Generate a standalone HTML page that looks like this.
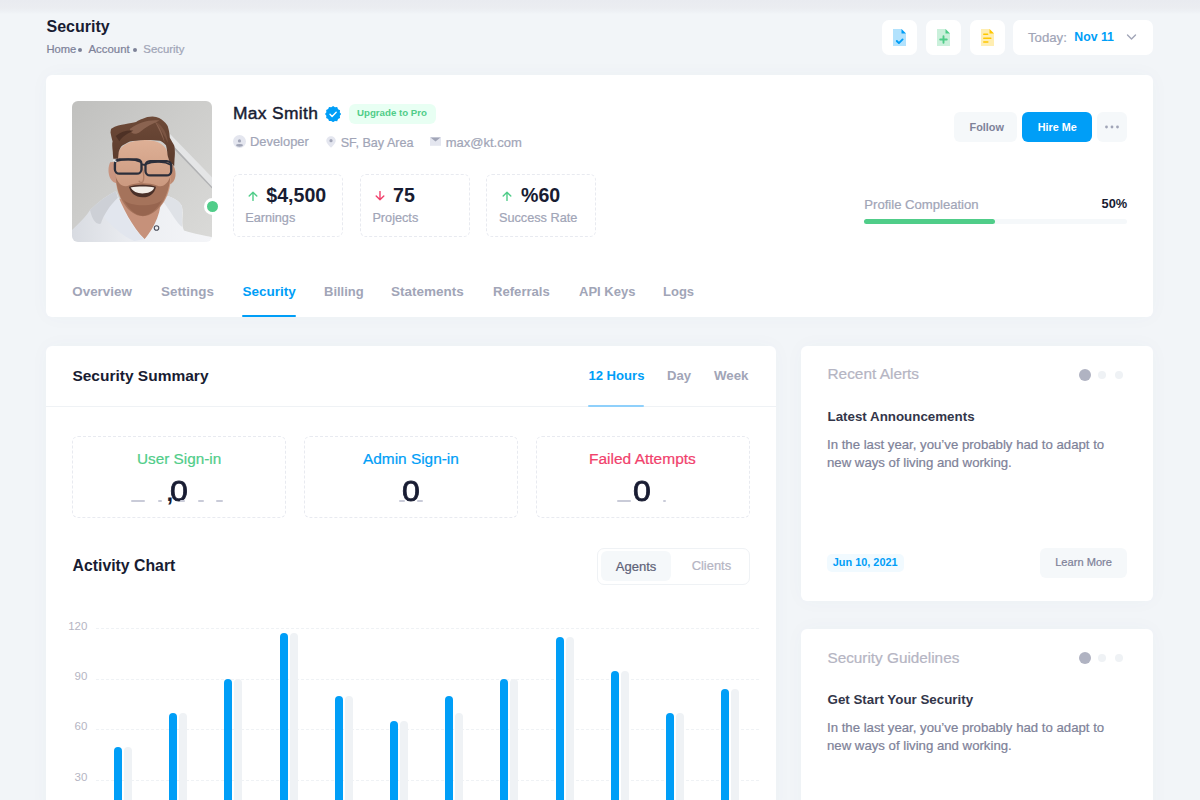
<!DOCTYPE html>
<html><head><meta charset="utf-8">
<style>
*{margin:0;padding:0;box-sizing:border-box}
html,body{width:1200px;height:800px;overflow:hidden}
body{background:#f2f5f8;font-family:"Liberation Sans",sans-serif;position:relative;color:#181c32}
.a{position:absolute;white-space:nowrap;line-height:1}
.card{position:absolute;background:#fff;border-radius:6px;box-shadow:0 0 20px 0 rgba(76,87,125,0.03)}
.ibtn{position:absolute;top:20px;width:35px;height:35px;background:#fff;border-radius:7px}
.dash{position:absolute;border:1px dashed #e8eaf0;border-radius:6px}
.bar{position:absolute;width:8px;border-radius:4px 4px 0 0;background:#009ef7}
.bar.gr{background:#eff2f5}
.grid{position:absolute;left:96px;width:663px;height:0;border-top:1px dashed #eff2f5}
</style></head><body>
<div style="position:absolute;left:0;top:0;width:1200px;height:14px;background:linear-gradient(#e9ebf0,#ebedf1 55%,#eef1f5 85%,#f2f5f8)"></div>
<div class="a" style="left:46.50px;top:18.96px;font-size:16px;font-weight:bold;color:#181c32;">Security</div>
<div class="a" style="left:46.50px;top:44.22px;font-size:11.2px;-webkit-text-stroke:0.22px #7e8299;color:#7e8299;">Home</div>
<div style="position:absolute;left:78px;top:48px;width:4px;height:4px;background:#7e8299;border-radius:2px;"></div>
<div class="a" style="left:88.50px;top:44.05px;font-size:11.4px;-webkit-text-stroke:0.22px #7e8299;color:#7e8299;">Account</div>
<div style="position:absolute;left:132.5px;top:48px;width:4px;height:4px;background:#7e8299;border-radius:2px;"></div>
<div class="a" style="left:143.30px;top:44.05px;font-size:11.4px;-webkit-text-stroke:0.22px #a1a5b7;color:#a1a5b7;">Security</div>
<div class="ibtn" style="left:882px"><svg width="35" height="35" viewBox="0 0 35 35"><path d="M11 9h8.5l4.5 4.5V26H11z" fill="#009ef7" opacity=".3"/><path d="M19.5 9l4.5 4.5h-4.5z" fill="#009ef7"/><path d="M14.8 21l2.1 2.1 3.7-3.7" stroke="#009ef7" stroke-width="1.9" fill="none" stroke-linecap="round" stroke-linejoin="round"/></svg></div>
<div class="ibtn" style="left:926px"><svg width="35" height="35" viewBox="0 0 35 35"><path d="M11 9h8.5l4.5 4.5V26H11z" fill="#50cd89" opacity=".3"/><path d="M19.5 9l4.5 4.5h-4.5z" fill="#50cd89"/><path d="M17.5 16.2v6.6M14.2 19.5h6.6" stroke="#50cd89" stroke-width="1.9" fill="none" stroke-linecap="round"/></svg></div>
<div class="ibtn" style="left:970px"><svg width="35" height="35" viewBox="0 0 35 35"><path d="M11 9h8.5l4.5 4.5V26H11z" fill="#ffc700" opacity=".3"/><path d="M19.5 9l4.5 4.5h-4.5z" fill="#ffc700"/><path d="M13.8 14.2h3.8M13.8 18.2h7M13.8 22h4" stroke="#ffc700" stroke-width="1.6" fill="none" stroke-linecap="round"/></svg></div>
<div style="position:absolute;left:1013px;top:20px;width:140px;height:35px;background:#fff;border-radius:7px;"></div>
<div class="a" style="left:1028.00px;top:30.63px;font-size:13.2px;-webkit-text-stroke:0.22px #a1a5b7;color:#a1a5b7;">Today:</div>
<div class="a" style="left:1074.30px;top:31.39px;font-size:12.3px;font-weight:bold;color:#009ef7;">Nov 11</div>
<svg class="a" style="left:1126px;top:33px" width="11" height="8" viewBox="0 0 11 8"><path d="M1.5 2l4 4 4-4" stroke="#a1a5b7" stroke-width="1.4" fill="none" stroke-linecap="round" stroke-linejoin="round"/></svg>
<div class="card" style="left:46px;top:75px;width:1107px;height:242px"></div>
<div style="position:absolute;left:72px;top:101px;width:140px;height:141px;border-radius:6px;overflow:hidden"><svg width="140" height="141" viewBox="0 0 800 805" preserveAspectRatio="none" style="filter:blur(0.35px)">
<defs>
<linearGradient id="pbg" x1="0" y1="0" x2="1" y2="1"><stop offset="0" stop-color="#c0c0be"/><stop offset=".45" stop-color="#cdcdcb"/><stop offset="1" stop-color="#dadad8"/></linearGradient>
<linearGradient id="skin" x1="0" y1="0" x2="0" y2="1"><stop offset="0" stop-color="#deb096"/><stop offset=".6" stop-color="#cc9a80"/><stop offset="1" stop-color="#b98670"/></linearGradient>
<linearGradient id="hood" x1="0" y1="0" x2="1" y2="0"><stop offset="0" stop-color="#d8dbe1"/><stop offset=".45" stop-color="#eceef2"/><stop offset="1" stop-color="#f4f5f8"/></linearGradient>
<linearGradient id="hair" x1="0" y1="0" x2="0" y2="1"><stop offset="0" stop-color="#6e4a38"/><stop offset="1" stop-color="#5a3a2b"/></linearGradient>
</defs>
<rect width="800" height="805" fill="url(#pbg)"/>
<path d="M560 188 L800 436 L800 490 L545 220Z" fill="#e4e5e6"/>
<path d="M548 222 L800 490 L800 500 L543 232Z" fill="#b0b1b3"/>
<path d="M270 560 L545 540 L570 650 L415 790 L285 660Z" fill="#c6917a"/>
<path d="M0 737 C40 700 80 660 103 623 C150 575 200 540 251 514 C290 610 345 720 415 790 C475 715 515 630 508 531 C570 545 615 570 628 600 C640 650 620 700 640 740 C700 760 760 770 800 778 L800 805 L0 805Z" fill="url(#hood)"/>
<path d="M150 625 C190 590 230 565 262 552 C300 640 350 730 415 790 L355 800 C285 770 210 700 150 625Z" fill="#e2e6ee"/>
<path d="M251 514 C200 540 150 575 103 623 C115 680 140 710 165 700 C180 650 220 590 262 552Z" fill="#cdd0d6"/>
<path d="M508 531 C570 545 615 570 628 600 C632 640 625 680 630 720 C600 700 570 640 525 580Z" fill="#dfe2e7"/>
<path d="M218 350 C195 400 215 468 258 470 L258 345Z" fill="#c99580"/>
<path d="M578 365 C606 415 588 478 546 476 L548 355Z" fill="#bf8b72"/>
<path d="M262 300 C275 250 340 222 415 222 C495 224 545 250 552 320 L565 440 C560 560 490 652 405 655 C320 652 258 560 250 450Z" fill="url(#skin)"/>
<path d="M250 430 C255 545 320 655 405 658 C492 655 555 545 562 430 C548 470 520 500 485 482 C450 468 365 465 330 480 C295 500 262 475 250 430Z" fill="#a5735b"/>
<path d="M295 565 C335 635 375 655 405 655 C445 653 485 622 515 565 C475 605 335 605 295 565Z" fill="#97654f"/>
<path d="M325 490 C360 474 450 474 480 490 C472 535 435 552 402 550 C362 549 336 528 325 490Z" fill="#4a3028"/>
<path d="M335 494 C372 486 438 486 470 494 C462 518 432 528 402 528 C372 528 347 516 335 494Z" fill="#f3eee8"/>
<path d="M224 158 C250 140 280 135 301 133 C330 128 350 122 366 120 C380 110 395 105 400 103 C420 92 440 88 460 88 C490 90 510 100 524 116 C540 130 548 142 550 154 C556 175 558 195 559 210 C570 230 580 245 585 257 C590 290 588 310 586 330 L584 373 C570 355 562 350 559 351 C552 330 548 320 546 309 C544 280 540 265 537 253 C520 235 510 230 503 227 C470 223 440 222 417 223 C380 225 350 228 331 231 C310 240 295 250 284 257 C275 270 270 280 267 291 L263 330 L236 330 C234 310 233 300 233 291 C230 260 228 240 232 231 C226 210 222 190 220 180 C221 170 222 163 224 158Z" fill="url(#hair)"/>
<path d="M330 160 C380 125 440 105 500 112 C460 130 420 150 390 175 C365 195 335 190 330 160Z" fill="#8a6350"/><path d="M470 110 C500 140 520 190 530 240 C515 200 495 160 470 110Z" fill="#8a6350"/><path d="M250 200 C280 175 320 165 350 170 C320 185 290 200 270 230Z" fill="#4e3125"/>
<path d="M480 120 C520 140 545 190 548 240 C530 200 505 160 480 120Z" fill="#7a5442"/>
<path d="M393 345 C408 400 418 440 404 462 C395 468 386 464 382 455" fill="none" stroke="#b07e66" stroke-width="7"/>
<rect x="245" y="333" width="152" height="82" rx="26" fill="none" stroke="#2b2e3a" stroke-width="13"/>
<rect x="420" y="343" width="147" height="82" rx="26" fill="none" stroke="#2b2e3a" stroke-width="13"/>
<path d="M245 345 C300 330 360 332 397 350 M420 360 C470 342 530 345 567 365" fill="none" stroke="#2b2e3a" stroke-width="10"/>
<path d="M397 362 L420 365" stroke="#2b2e3a" stroke-width="11"/>
<path d="M236 338 L254 346" stroke="#e8e8e8" stroke-width="9"/>
<circle cx="483" cy="725" r="13" fill="none" stroke="#4a4d5a" stroke-width="6"/>
</svg>
</div>
<div style="position:absolute;left:203.5px;top:198px;width:17px;height:17px;border-radius:50%;background:#50cd89;border:3px solid #fff"></div>
<div class="a" style="left:233.00px;top:104.87px;font-size:17.4px;color:#181c32;-webkit-text-stroke:0.45px #181c32;letter-spacing:0.35px;">Max Smith</div>
<svg class="a" style="left:324.8px;top:105.6px" width="16.2" height="16.2" viewBox="1.5 1.5 21 21"><path d="M12 1.5l2.4 1.6 2.9-.2 1.1 2.7 2.6 1.3-.3 2.9L22.5 12l-1.8 2.3.3 2.9-2.6 1.3-1.1 2.7-2.9-.2L12 22.5l-2.4-1.6-2.9.2-1.1-2.7-2.6-1.3.3-2.9L1.5 12l1.8-2.3-.3-2.9 2.6-1.3 1.1-2.7 2.9.2z" fill="#009ef7"/><path d="M8 12.3l2.7 2.7 5.3-5.3" stroke="#fff" stroke-width="1.8" fill="none" stroke-linecap="round" stroke-linejoin="round"/></svg>
<div style="position:absolute;left:349px;top:104px;width:87px;height:20px;background:#e8fff3;border-radius:6px;"></div>
<div class="a" style="left:357.00px;top:108.29px;font-size:9.7px;font-weight:bold;color:#50cd89;">Upgrade to Pro</div>
<svg class="a" style="left:233px;top:135px" width="13" height="13" viewBox="0 0 13 13"><circle cx="6.5" cy="6.5" r="6.5" fill="#e4e6ef"/><circle cx="6.5" cy="5.9" r="1.6" fill="#a1a5b7"/><ellipse cx="6.5" cy="10.3" rx="3.4" ry="1.4" fill="#a1a5b7"/></svg>
<div class="a" style="left:250.00px;top:136.38px;font-size:12.9px;-webkit-text-stroke:0.22px #a1a5b7;color:#a1a5b7;">Developer</div>
<svg class="a" style="left:325.8px;top:135.8px" width="10" height="12" viewBox="0 0 10 12"><path d="M5 0.3C2.4 0.3 0.3 2.3 0.3 4.8c0 2.9 4.7 6.9 4.7 6.9s4.7-4 4.7-6.9C9.7 2.3 7.6.3 5 .3z" fill="#e4e6ef"/><circle cx="5" cy="4.7" r="1.6" fill="#a1a5b7"/></svg>
<div class="a" style="left:340.70px;top:136.63px;font-size:12.6px;-webkit-text-stroke:0.22px #a1a5b7;color:#a1a5b7;">SF, Bay Area</div>
<svg class="a" style="left:430px;top:137px" width="11" height="9" viewBox="0 0 11 9"><rect x="0" y="0" width="11" height="8.8" fill="#e4e6ef"/><path d="M0.5 0.5H10.5L5.5 4.6Z" fill="#a1a5b7"/></svg>
<div class="a" style="left:445.70px;top:136.30px;font-size:13.0px;-webkit-text-stroke:0.22px #a1a5b7;color:#a1a5b7;">max@kt.com</div>
<div class="dash" style="left:233px;top:174px;width:110px;height:63px"></div>
<div class="dash" style="left:359.5px;top:174px;width:110px;height:63px"></div>
<div class="dash" style="left:486px;top:174px;width:110px;height:63px"></div>
<svg class="a" style="left:247.5px;top:191px" width="10" height="10" viewBox="0 0 10 10"><path d="M5 9.5V1.2M1.2 5L5 1.2 8.8 5" stroke="#50cd89" stroke-width="1.4" fill="none" stroke-linecap="round" stroke-linejoin="round"/></svg>
<div class="a" style="left:266.30px;top:185.51px;font-size:19.6px;font-weight:bold;color:#181c32;">$4,500</div>
<div class="a" style="left:245.20px;top:212.15px;font-size:12.7px;-webkit-text-stroke:0.22px #a1a5b7;color:#a1a5b7;">Earnings</div>
<svg class="a" style="left:374.5px;top:191px" width="10" height="10" viewBox="0 0 10 10"><path d="M5 0.5V8.8M1.2 5L5 8.8 8.8 5" stroke="#f1416c" stroke-width="1.4" fill="none" stroke-linecap="round" stroke-linejoin="round"/></svg>
<div class="a" style="left:393.00px;top:185.51px;font-size:19.6px;font-weight:bold;color:#181c32;">75</div>
<div class="a" style="left:372.40px;top:212.15px;font-size:12.7px;-webkit-text-stroke:0.22px #a1a5b7;color:#a1a5b7;">Projects</div>
<svg class="a" style="left:501.5px;top:191px" width="10" height="10" viewBox="0 0 10 10"><path d="M5 9.5V1.2M1.2 5L5 1.2 8.8 5" stroke="#50cd89" stroke-width="1.4" fill="none" stroke-linecap="round" stroke-linejoin="round"/></svg>
<div class="a" style="left:521.00px;top:185.51px;font-size:19.6px;font-weight:bold;color:#181c32;">%60</div>
<div class="a" style="left:499.00px;top:212.15px;font-size:12.7px;-webkit-text-stroke:0.22px #a1a5b7;color:#a1a5b7;">Success Rate</div>
<div style="position:absolute;left:954px;top:112px;width:63px;height:30px;background:#f5f8fa;border-radius:6px;"></div>
<div class="a" style="left:969.50px;top:121.77px;font-size:10.9px;font-weight:bold;color:#7e8299;">Follow</div>
<div style="position:absolute;left:1022px;top:112px;width:70px;height:30px;background:#009ef7;border-radius:6px;"></div>
<div class="a" style="left:1037.70px;top:121.86px;font-size:10.8px;font-weight:bold;color:#fff;">Hire Me</div>
<div style="position:absolute;left:1097px;top:112px;width:30px;height:30px;background:#f5f8fa;border-radius:6px;"></div>
<svg class="a" style="left:1104px;top:125px" width="16" height="4" viewBox="0 0 16 4"><circle cx="2.5" cy="2" r="1.4" fill="#a1a5b7"/><circle cx="8" cy="2" r="1.4" fill="#a1a5b7"/><circle cx="13.5" cy="2" r="1.4" fill="#a1a5b7"/></svg>
<div class="a" style="left:864.30px;top:197.61px;font-size:13.1px;-webkit-text-stroke:0.22px #a1a5b7;color:#a1a5b7;">Profile Compleation</div>
<div class="a" style="left:1101.60px;top:197.86px;font-size:12.8px;font-weight:bold;color:#181c32;">50%</div>
<div style="position:absolute;left:864px;top:219px;width:263px;height:5px;background:#f5f8fa;border-radius:3px;"></div>
<div style="position:absolute;left:864px;top:219px;width:131px;height:5px;background:#50cd89;border-radius:3px;"></div>
<div class="a" style="left:72.30px;top:284.66px;font-size:13.4px;font-weight:bold;color:#a1a5b7;">Overview</div>
<div class="a" style="left:161.00px;top:284.66px;font-size:13.4px;font-weight:bold;color:#a1a5b7;">Settings</div>
<div class="a" style="left:242.40px;top:284.57px;font-size:13.5px;font-weight:bold;color:#009ef7;">Security</div>
<div class="a" style="left:324.00px;top:285.00px;font-size:13.0px;font-weight:bold;color:#a1a5b7;">Billing</div>
<div class="a" style="left:391.00px;top:284.57px;font-size:13.5px;font-weight:bold;color:#a1a5b7;">Statements</div>
<div class="a" style="left:493.00px;top:284.91px;font-size:13.1px;font-weight:bold;color:#a1a5b7;">Referrals</div>
<div class="a" style="left:579.00px;top:285.00px;font-size:13.0px;font-weight:bold;color:#a1a5b7;">API Keys</div>
<div class="a" style="left:663.00px;top:285.00px;font-size:13.0px;font-weight:bold;color:#a1a5b7;">Logs</div>
<div style="position:absolute;left:242px;top:315px;width:54px;height:2px;background:#009ef7;border-radius:1px;"></div>
<div class="card" style="left:46px;top:346px;width:730px;height:470px"></div>
<div class="a" style="left:72.40px;top:367.88px;font-size:15.5px;font-weight:bold;color:#181c32;">Security Summary</div>
<div class="a" style="left:588.40px;top:368.91px;font-size:13.1px;font-weight:bold;color:#009ef7;">12 Hours</div>
<div class="a" style="left:667.00px;top:368.91px;font-size:13.1px;font-weight:bold;color:#a1a5b7;">Day</div>
<div class="a" style="left:714.00px;top:368.74px;font-size:13.3px;font-weight:bold;color:#a1a5b7;">Week</div>
<div style="position:absolute;left:46px;top:406px;width:730px;height:1px;background:#eff2f5;border-radius:0px;"></div>
<div style="position:absolute;left:588px;top:405px;width:56px;height:2px;background:#8fd0fb;border-radius:1px;"></div>
<div class="dash" style="left:72px;top:436px;width:214px;height:82px"></div>
<div class="dash" style="left:304px;top:436px;width:214px;height:82px"></div>
<div class="dash" style="left:536px;top:436px;width:214px;height:82px"></div>
<div class="a" style="left:137.00px;top:451.05px;font-size:15.3px;-webkit-text-stroke:0.22px #50cd89;color:#50cd89;">User Sign-in</div>
<div class="a" style="left:363.00px;top:450.96px;font-size:15.4px;-webkit-text-stroke:0.22px #009ef7;color:#009ef7;">Admin Sign-in</div>
<div class="a" style="left:589.00px;top:450.88px;font-size:15.5px;-webkit-text-stroke:0.22px #f1416c;color:#f1416c;">Failed Attempts</div>
<div class="a" style="left:170.40px;top:476.21px;font-size:30px;color:#181c32;-webkit-text-stroke:0.8px #181c32;transform:scaleX(1.07);transform-origin:left">0</div>
<div class="a" style="left:402.00px;top:476.21px;font-size:30px;color:#181c32;-webkit-text-stroke:0.8px #181c32;transform:scaleX(1.07);transform-origin:left">0</div>
<div class="a" style="left:633.30px;top:476.21px;font-size:30px;color:#181c32;-webkit-text-stroke:0.8px #181c32;transform:scaleX(1.07);transform-origin:left">0</div>
<div class="a" style="left:166.40px;top:481.28px;font-size:24px;font-weight:bold;color:#181c32;">,</div>
<div style="position:absolute;left:131px;top:500.2px;width:14.2px;height:1.8px;background:#c9cbd8;border-radius:1px;"></div>
<div style="position:absolute;left:158px;top:500.2px;width:3.7px;height:1.8px;background:#c9cbd8;border-radius:1px;"></div>
<div style="position:absolute;left:180px;top:500.2px;width:5px;height:1.8px;background:#c9cbd8;border-radius:1px;"></div>
<div style="position:absolute;left:198px;top:500.2px;width:6.4px;height:1.8px;background:#c9cbd8;border-radius:1px;"></div>
<div style="position:absolute;left:216.3px;top:500.2px;width:6.9px;height:1.8px;background:#c9cbd8;border-radius:1px;"></div>
<div style="position:absolute;left:399px;top:500.2px;width:5.7px;height:1.8px;background:#c9cbd8;border-radius:1px;"></div>
<div style="position:absolute;left:417.4px;top:500.2px;width:5.4px;height:1.8px;background:#c9cbd8;border-radius:1px;"></div>
<div style="position:absolute;left:616.7px;top:500.2px;width:14.3px;height:1.8px;background:#c9cbd8;border-radius:1px;"></div>
<div style="position:absolute;left:662.5px;top:500.2px;width:3.5px;height:1.8px;background:#c9cbd8;border-radius:1px;"></div>
<div class="a" style="left:72.60px;top:558.23px;font-size:15.8px;font-weight:bold;color:#181c32;">Activity Chart</div>
<div style="position:absolute;left:597px;top:548px;width:153px;height:37px;border:1px solid #eff2f5;border-radius:7px"></div>
<div style="position:absolute;left:601px;top:551px;width:70px;height:30px;background:#f5f8fa;border-radius:6px;"></div>
<div class="a" style="left:615.80px;top:559.50px;font-size:13.0px;-webkit-text-stroke:0.22px #5e6278;color:#5e6278;">Agents</div>
<div class="a" style="left:691.70px;top:559.58px;font-size:12.9px;-webkit-text-stroke:0.22px #b5b5c3;color:#b5b5c3;">Clients</div>
<div class="grid" style="top:628px"></div>
<div class="grid" style="top:679px"></div>
<div class="grid" style="top:729px"></div>
<div class="grid" style="top:780px"></div>
<div class="a" style="left:47px;width:40.4px;text-align:right;top:620.57px;font-size:11.5px;color:#b5b5c3">120</div>
<div class="a" style="left:47px;width:40.4px;text-align:right;top:671.27px;font-size:11.5px;color:#b5b5c3">90</div>
<div class="a" style="left:47px;width:40.4px;text-align:right;top:721.27px;font-size:11.5px;color:#b5b5c3">60</div>
<div class="a" style="left:47px;width:40.4px;text-align:right;top:771.97px;font-size:11.5px;color:#b5b5c3">30</div>
<div class="bar" style="left:114.25px;top:746.75px;height:53.25px"></div><div class="bar gr" style="left:124.25px;top:746.75px;height:53.25px"></div>
<div class="bar" style="left:169.25px;top:713px;height:87px"></div><div class="bar gr" style="left:179.25px;top:713px;height:87px"></div>
<div class="bar" style="left:224.25px;top:679px;height:121px"></div><div class="bar gr" style="left:234.25px;top:679px;height:121px"></div>
<div class="bar" style="left:279.5px;top:633px;height:167px"></div><div class="bar gr" style="left:289.5px;top:633px;height:167px"></div>
<div class="bar" style="left:335px;top:695.75px;height:104.25px"></div><div class="bar gr" style="left:345px;top:695.75px;height:104.25px"></div>
<div class="bar" style="left:390px;top:721.25px;height:78.75px"></div><div class="bar gr" style="left:400px;top:721.25px;height:78.75px"></div>
<div class="bar" style="left:445.25px;top:695.75px;height:104.25px"></div><div class="bar gr" style="left:455.25px;top:712.75px;height:87.25px"></div>
<div class="bar" style="left:500.25px;top:679px;height:121px"></div><div class="bar gr" style="left:510.25px;top:679px;height:121px"></div>
<div class="bar" style="left:555.5px;top:636.5px;height:163.5px"></div><div class="bar gr" style="left:565.5px;top:636.5px;height:163.5px"></div>
<div class="bar" style="left:610.75px;top:670.5px;height:129.5px"></div><div class="bar gr" style="left:620.75px;top:670.5px;height:129.5px"></div>
<div class="bar" style="left:665.75px;top:712.75px;height:87.25px"></div><div class="bar gr" style="left:675.75px;top:712.75px;height:87.25px"></div>
<div class="bar" style="left:721px;top:688.75px;height:111.25px"></div><div class="bar gr" style="left:731px;top:688.75px;height:111.25px"></div>
<div class="card" style="left:801px;top:346px;width:352px;height:255px"></div>
<div class="a" style="left:827.50px;top:366.46px;font-size:15.4px;-webkit-text-stroke:0.22px #b5b5c3;color:#b5b5c3;">Recent Alerts</div>
<div style="position:absolute;left:1078.5px;top:368.5px;width:12px;height:12px;background:#b0b3c2;border-radius:6px;"></div>
<div style="position:absolute;left:1097.5px;top:370.5px;width:8px;height:8px;background:#eff2f5;border-radius:4px;"></div>
<div style="position:absolute;left:1114.5px;top:370.5px;width:8px;height:8px;background:#eff2f5;border-radius:4px;"></div>
<div class="a" style="left:827.50px;top:409.90px;font-size:13.35px;font-weight:bold;color:#33364a;">Latest Announcements</div>
<div class="a" style="left:827.00px;top:437.58px;font-size:13.2px;-webkit-text-stroke:0.22px #7e8299;color:#7e8299;">In the last year, you’ve probably had to adapt to</div>
<div class="a" style="left:827.00px;top:455.83px;font-size:13.2px;-webkit-text-stroke:0.22px #7e8299;color:#7e8299;">new ways of living and working.</div>
<div class="card" style="left:801px;top:629px;width:352px;height:255px"></div>
<div class="a" style="left:827.50px;top:649.55px;font-size:15.3px;-webkit-text-stroke:0.22px #b5b5c3;color:#b5b5c3;">Security Guidelines</div>
<div style="position:absolute;left:1078.5px;top:651.5px;width:12px;height:12px;background:#b0b3c2;border-radius:6px;"></div>
<div style="position:absolute;left:1097.5px;top:653.5px;width:8px;height:8px;background:#eff2f5;border-radius:4px;"></div>
<div style="position:absolute;left:1114.5px;top:653.5px;width:8px;height:8px;background:#eff2f5;border-radius:4px;"></div>
<div class="a" style="left:827.50px;top:692.90px;font-size:13.35px;font-weight:bold;color:#33364a;">Get Start Your Security</div>
<div class="a" style="left:827.00px;top:720.58px;font-size:13.2px;-webkit-text-stroke:0.22px #7e8299;color:#7e8299;">In the last year, you’ve probably had to adapt to</div>
<div class="a" style="left:827.00px;top:738.83px;font-size:13.2px;-webkit-text-stroke:0.22px #7e8299;color:#7e8299;">new ways of living and working.</div>
<div style="position:absolute;left:827px;top:554px;width:77px;height:18px;background:#f1faff;border-radius:5px;"></div>
<div class="a" style="left:832.80px;top:557.27px;font-size:10.9px;font-weight:bold;color:#009ef7;">Jun 10, 2021</div>
<div style="position:absolute;left:1040px;top:548px;width:87px;height:30px;background:#f5f8fa;border-radius:6px;"></div>
<div class="a" style="left:1055.20px;top:557.10px;font-size:11.1px;-webkit-text-stroke:0.22px #7e8299;color:#7e8299;">Learn More</div>
</body></html>
